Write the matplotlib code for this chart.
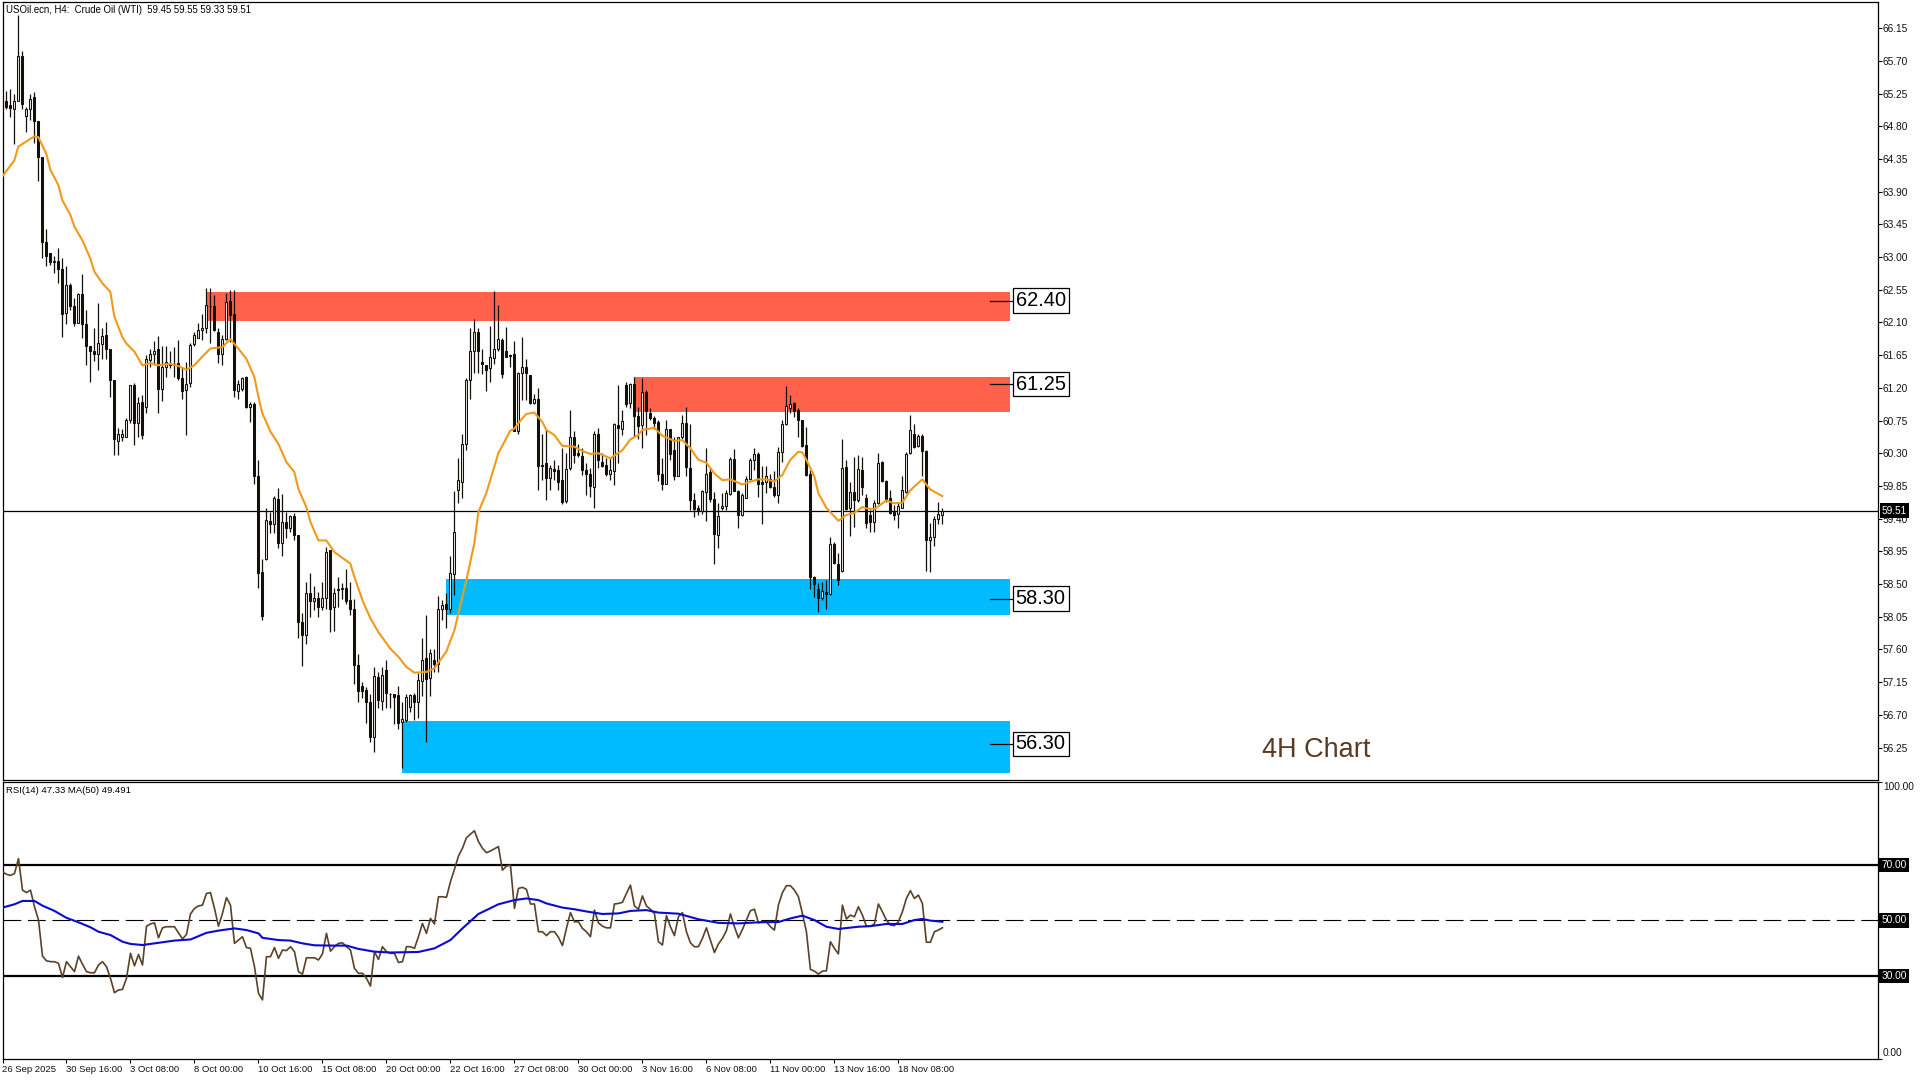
import matplotlib
matplotlib.use("Agg")
import matplotlib.pyplot as plt
from matplotlib.patches import Rectangle
from matplotlib.transforms import blended_transform_factory
import numpy as np

plt.rcParams['font.family'] = ['Liberation Sans', 'DejaVu Sans']

# ---------- price data (H4 candles) ----------
open_ = [
65.15,65.14,65.09,65.04,65.14,65.76,64.94,65.03,65.20,64.87,
64.38,63.20,63.06,62.95,62.94,62.83,62.23,62.61,62.32,62.09,
62.49,62.08,61.77,61.71,61.66,61.80,61.92,61.74,61.31,60.47,
60.52,60.53,60.76,61.24,60.71,61.01,60.93,61.58,61.67,61.73,
61.19,61.48,61.53,61.53,61.54,61.34,61.17,61.26,61.80,61.89,
61.99,62.02,62.32,62.32,61.97,61.66,61.87,62.39,62.21,61.16,
61.19,61.35,60.93,60.98,59.98,58.66,58.84,59.37,59.33,59.67,
59.07,59.35,59.27,59.43,59.18,57.98,57.80,58.38,58.27,58.31,
58.19,58.31,58.97,58.18,58.43,58.43,58.44,58.28,58.16,57.38,
57.09,57.04,56.88,56.39,57.22,56.89,57.32,56.99,56.99,56.97,
56.60,56.63,56.81,56.97,56.87,57.17,57.48,57.20,57.46,57.40,
58.16,58.22,58.16,58.64,59.80,59.91,60.42,61.31,61.71,61.97,
61.55,61.52,61.47,61.61,61.74,61.86,61.70,61.65,61.66,60.61,
61.41,61.48,61.37,60.99,61.04,60.14,60.16,59.96,60.08,60.07,
59.93,59.64,60.09,60.53,60.30,60.26,60.07,60.02,59.84,60.57,
60.18,60.14,60.02,60.06,60.69,60.64,61.24,60.99,61.25,60.81,
60.69,61.14,60.85,60.78,60.73,60.01,59.87,60.63,60.34,59.98,
60.52,60.72,60.10,59.66,59.55,59.51,59.76,60.04,59.67,59.17,
59.55,59.58,59.74,60.22,59.78,59.45,59.69,59.94,60.21,60.29,
59.90,59.90,59.95,59.84,59.73,60.31,60.70,60.92,60.99,60.89,
60.76,60.41,60.02,58.60,58.43,58.31,58.39,58.36,59.05,58.78,
58.68,60.11,59.54,59.77,59.65,60.07,59.68,59.45,59.36,59.61,
60.18,59.92,59.68,59.49,59.46,59.55,59.77,60.30,60.56,60.40,
60.54,60.33,59.11,59.15,59.39,59.45]
high = [
65.20,65.28,65.31,65.25,66.33,65.83,65.06,65.24,65.27,64.87,
64.38,63.38,63.06,63.01,63.13,62.99,62.88,62.64,62.43,62.51,
62.76,62.27,61.77,62.02,62.37,62.02,62.10,61.74,61.31,60.65,
60.64,60.78,61.24,61.26,61.08,61.10,61.65,61.73,61.85,61.91,
61.77,61.77,61.70,61.76,61.86,61.49,61.56,61.81,61.97,62.09,
62.22,62.58,62.58,62.48,62.02,61.92,62.50,62.54,62.54,61.31,
61.35,61.36,61.01,61.01,60.21,58.84,59.55,59.49,59.71,59.82,
59.74,59.49,59.45,59.48,59.18,58.10,58.53,58.65,58.47,58.39,
58.53,59.01,58.97,58.44,58.60,58.51,58.71,58.53,58.29,57.54,
57.15,57.08,56.99,57.36,57.29,57.36,57.45,57.00,56.99,57.09,
56.88,56.99,56.99,57.00,57.27,57.76,58.07,57.61,57.61,58.33,
58.28,58.37,58.88,59.78,60.23,60.57,61.33,62.02,62.15,62.02,
61.73,61.52,62.05,62.53,62.34,61.89,62.03,61.66,61.85,61.42,
61.90,61.59,61.37,61.12,61.20,60.56,60.64,60.14,60.21,60.14,
60.37,60.30,60.90,60.61,60.43,60.37,60.16,60.09,60.61,60.65,
60.30,60.23,60.23,60.71,61.24,60.90,61.28,61.26,61.35,60.94,
61.33,61.17,60.92,60.81,60.76,60.23,60.76,60.64,60.53,60.53,
60.83,60.94,60.70,59.75,59.59,59.79,60.37,60.09,59.77,59.62,
59.75,59.79,60.25,60.36,59.79,59.75,59.98,60.24,60.37,60.32,
60.12,60.12,60.01,60.06,60.39,60.76,61.22,61.10,61.01,60.92,
60.76,60.66,60.07,58.61,58.51,58.53,58.56,59.15,59.08,58.92,
60.50,60.21,59.91,60.25,60.27,60.25,59.74,59.52,59.66,60.30,
60.19,59.93,59.79,59.59,59.61,59.98,60.32,60.83,60.70,60.57,
60.56,60.34,59.34,59.43,59.63,59.55]
low = [
65.11,65.04,64.92,64.56,65.14,65.03,64.72,64.89,64.57,64.04,
62.99,62.88,62.89,62.78,62.64,61.90,62.08,62.27,62.05,62.09,
61.89,61.52,61.28,61.57,61.45,61.60,61.60,61.08,60.27,60.27,
60.47,60.53,60.72,60.41,60.53,60.49,60.85,61.49,61.51,60.86,
61.02,61.35,61.47,61.35,61.31,61.05,60.55,61.21,61.77,61.88,
61.86,61.95,61.82,61.98,61.54,61.51,61.86,61.83,61.08,61.05,
61.15,60.92,60.73,59.87,58.45,58.00,58.83,59.20,59.20,59.00,
58.89,59.14,59.22,59.10,57.76,57.37,57.68,58.05,58.14,58.05,
58.14,58.16,57.84,57.86,58.18,58.30,58.23,58.07,57.13,56.87,
56.93,56.59,56.33,56.19,56.79,56.76,56.79,56.79,56.58,56.51,
55.97,56.60,56.74,56.63,56.65,56.96,56.33,56.96,57.29,57.29,
58.00,57.89,58.10,58.35,59.61,59.69,60.34,61.05,61.40,61.41,
61.39,61.16,61.28,61.53,61.70,61.34,61.62,61.48,60.60,60.56,
61.03,61.03,60.98,60.98,59.79,59.93,59.66,59.79,59.93,59.79,
59.60,59.62,60.07,60.16,60.25,60.00,59.72,59.70,59.54,60.09,
60.11,59.98,59.93,59.86,60.16,60.55,60.93,60.92,60.53,60.50,
60.37,60.55,60.76,60.64,59.92,59.80,59.87,60.20,59.93,59.98,
60.50,59.98,59.52,59.42,59.45,59.47,59.37,59.63,58.77,59.00,
59.52,59.52,59.72,59.78,59.27,59.44,59.68,59.93,60.07,59.70,
59.33,59.75,59.82,59.70,59.62,60.18,60.69,60.85,60.80,60.53,
60.39,59.98,58.43,58.32,58.12,58.28,58.16,58.35,58.78,58.48,
58.67,59.52,59.16,59.29,59.63,59.72,59.27,59.22,59.22,59.60,
59.91,59.63,59.46,59.38,59.27,59.54,59.75,60.29,60.37,60.39,
59.98,58.68,58.67,59.03,59.32,59.33]
close = [
65.17,65.07,65.05,65.14,65.76,65.11,65.04,65.18,64.87,64.38,
63.20,63.02,62.93,62.93,62.83,62.22,62.61,62.32,62.09,62.49,
62.08,61.78,61.70,61.67,61.82,61.91,61.74,61.31,60.49,60.56,
60.57,60.76,61.24,60.72,60.99,60.55,61.59,61.67,61.71,61.19,
61.49,61.56,61.52,61.52,61.33,61.16,61.25,61.79,61.92,61.99,
62.02,62.34,62.32,61.99,61.66,61.87,62.38,62.20,61.17,61.25,
61.34,60.94,60.98,59.98,58.65,58.06,59.38,59.33,59.68,59.07,
59.36,59.27,59.43,59.18,57.98,57.80,58.37,58.27,58.31,58.19,
58.31,58.94,58.16,58.38,58.42,58.44,58.27,58.15,57.38,57.03,
57.03,56.87,56.40,57.23,56.90,57.25,57.00,56.99,56.95,56.59,
56.64,56.94,56.97,56.88,57.18,57.46,57.19,57.55,57.40,58.16,
58.21,58.16,58.65,59.21,59.93,60.43,61.31,61.70,61.97,61.71,
61.53,61.44,61.63,61.74,61.87,61.39,61.63,61.64,60.61,61.41,
61.48,61.41,60.99,61.05,60.13,60.13,59.96,60.10,60.06,59.91,
59.63,60.08,60.53,60.27,60.27,60.07,60.01,59.85,60.57,60.20,
60.13,60.02,60.07,60.70,60.65,60.74,60.98,61.25,60.81,60.67,
61.14,60.88,60.79,60.72,60.01,59.87,60.64,60.29,59.98,60.52,
60.72,60.11,59.66,59.53,59.51,59.78,60.02,59.67,59.19,59.44,
59.58,59.75,60.22,59.78,59.45,59.72,59.95,60.21,60.29,59.87,
59.88,59.98,59.84,59.72,60.31,60.70,60.95,60.98,60.88,60.76,
60.40,60.00,58.59,58.50,58.31,58.41,58.36,59.05,58.79,58.56,
60.10,59.53,59.77,59.65,60.08,59.83,59.34,59.36,59.61,60.17,
59.92,59.65,59.48,59.45,59.57,59.79,60.29,60.62,60.39,60.54,
60.33,59.11,59.15,59.40,59.47,59.51]

# moving average on the price panel
ma_bar = [0,3,4,6,8,9,11,12,14,15,17,18,20,22,23,25,27,28,30,31,33,35,37,39,42,44,46,48,50,52,55,57,59,61,63,64,65,67,69,71,73,74,76,77,79,81,83,87,88,90,92,94,97,99,101,103,106,108,111,113,114,116,118,119,
121,124,127,128,130,131,133,135,136,138,140,143,145,147,149,152,155,157,159,160,163,165,168,170,172,174,176,178,180,182,185,187,189,191,193,195,197,199,200,201,203,204,206,209,211,213,215,216,218,221,223,225,227,230,232,235]
ma_val = [64.11,64.33,64.52,64.59,64.66,64.65,64.42,64.20,63.99,63.78,63.58,63.42,63.23,62.98,62.80,62.64,62.52,62.18,61.90,61.81,61.70,61.51,61.54,61.51,61.53,61.50,61.45,61.51,61.63,61.74,61.76,61.87,61.74,61.60,61.35,61.08,60.85,60.60,60.43,60.18,60.04,59.81,59.56,59.36,59.10,59.10,58.94,58.78,58.60,58.28,58.03,57.84,57.61,57.50,57.36,57.28,57.29,57.34,57.57,57.86,58.09,58.55,59.06,59.49,
59.75,60.30,60.61,60.64,60.78,60.84,60.86,60.73,60.62,60.55,60.40,60.39,60.33,60.29,60.30,60.23,60.34,60.49,60.55,60.62,60.65,60.54,60.47,60.48,60.37,60.21,60.17,60.02,59.93,59.94,59.87,59.91,59.94,59.94,59.91,60.00,60.21,60.32,60.31,60.21,59.98,59.75,59.55,59.37,59.45,59.48,59.56,59.54,59.53,59.65,59.61,59.62,59.79,59.94,59.80,59.71]

# RSI(14) and its MA(50)
rsi = [
67.5,66.6,66.2,66.9,72.3,60.9,60.0,60.9,54.9,50.1,
37.1,35.4,35.1,35.1,34.5,29.4,35.1,33.3,31.5,37.1,
34.2,31.5,31.1,31.1,33.9,35.1,33.3,29.1,23.9,24.9,
25.1,29.1,38.1,33.6,37.7,33.9,47.9,48.7,49.1,43.7,
47.3,47.7,47.7,47.7,45.5,43.3,44.9,52.3,54.3,55.2,
55.5,59.7,60.0,54.3,47.9,52.5,58.2,55.5,41.7,42.9,
44.1,40.2,39.9,33.3,23.7,21.3,36.9,36.9,40.2,36.3,
39.3,39.1,40.5,38.7,31.5,30.6,36.5,36.5,36.5,35.7,
37.9,45.3,38.9,40.5,41.7,41.9,40.5,39.3,32.7,30.9,
30.9,29.1,26.3,38.7,35.9,40.5,38.7,38.1,38.1,34.8,
35.1,40.5,40.5,39.9,44.1,48.9,45.3,50.7,48.7,58.5,
58.5,58.3,63.9,68.4,73.2,76.0,79.8,81.1,82.3,78.4,
76.0,74.4,75.0,75.8,76.6,68.1,69.6,69.9,54.3,61.5,
61.9,61.2,55.9,55.9,45.9,45.9,44.5,45.9,45.9,43.9,
40.9,47.1,52.8,49.5,49.5,47.1,45.9,44.1,53.7,49.1,
47.9,47.3,47.3,55.9,56.1,56.5,59.7,62.7,55.2,54.0,
58.8,55.2,54.0,52.5,42.3,41.1,51.7,47.7,44.5,51.3,
52.8,45.9,41.9,40.5,40.5,43.5,47.3,42.9,38.4,41.5,
43.5,46.3,52.3,47.7,43.7,46.7,50.1,53.5,54.0,49.1,
49.5,49.5,47.7,46.5,55.5,60.0,62.5,62.5,60.9,58.5,
52.5,45.9,32.3,31.7,30.6,31.7,31.8,42.3,39.9,37.9,
55.5,50.5,51.9,51.3,54.9,51.9,47.9,47.9,48.7,55.9,
53.1,50.1,48.3,48.1,49.5,53.1,57.9,60.7,57.9,59.1,
56.1,42.1,42.1,45.9,46.5,47.33]
rsi_ma_bar = [0,3,5,8,10,13,16,19,22,24,27,30,32,35,39,43,47,51,54,58,61,64,65,69,72,75,78,82,86,89,93,97,104,108,112,115,119,
121,124,128,131,134,136,140,143,146,150,154,157,161,164,169,174,179,184,189,194,197,200,203,206,209,214,217,221,225,228,230,232,235]
rsi_ma_val = [54.6,55.8,57.0,57.0,55.3,53.4,50.9,49.3,47.5,45.9,44.7,42.3,41.5,41.1,41.9,42.7,43.1,45.5,46.3,47.1,46.5,45.3,43.7,42.9,42.7,41.7,41.0,40.9,40.9,39.7,38.7,38.4,38.6,39.9,42.9,47.1,52.3,
53.7,55.8,57.3,57.9,57.3,56.1,54.6,54.0,53.2,52.3,52.5,53.4,53.7,52.8,52.4,50.4,49.1,48.9,49.3,49.4,50.7,51.7,50.1,47.7,46.9,47.7,47.9,48.7,48.7,50.1,50.5,49.9,49.49]

# zones: first bar, top price, bottom price
zone_start = [50.9, 157.9, 110.9, 99.9]
zone_top = [62.52, 61.35, 58.57, 56.61]
zone_bottom = [62.12, 60.87, 58.07, 55.90]
zone_colors = ['#ff614a', '#ff614a', '#00bbff', '#00bbff']
zone_end = 251.9
levels = [62.40, 61.25, 58.30, 56.30]
level_labels = ['62.40', '61.25', '58.30', '56.30']

price_ticks = [66.15,65.70,65.25,64.80,64.35,63.90,63.45,63.00,62.55,62.10,61.65,61.20,60.75,60.30,59.85,59.40,58.95,58.50,58.05,57.60,57.15,56.70,56.25]
last_price = 59.51
date_labels = ['26 Sep 2025','30 Sep 16:00','3 Oct 08:00','8 Oct 00:00','10 Oct 16:00','15 Oct 08:00','20 Oct 00:00','22 Oct 16:00','27 Oct 08:00','30 Oct 00:00','3 Nov 16:00','6 Nov 08:00','11 Nov 00:00','13 Nov 16:00','18 Nov 08:00']
date_bars = [0,16,32,48,64,80,96,112,128,144,160,176,192,208,224]

W, H = 1920, 1080
fig = plt.figure(figsize=(19.2, 10.8), dpi=100, facecolor='white')
def axes_px(x0, y0, x1, y1):
    return fig.add_axes([x0/W, 1-y1/H, (x1-x0)/W, (y1-y0)/H])

ax = axes_px(2.5, 2.3, 1877.5, 779.5)
ax2 = axes_px(2.5, 781.7, 1877.5, 1059.0)
XLIM = (0.04, 468.8)
x = np.arange(len(close))
o, h, l, c = map(np.array, (open_, high, low, close))

for a in (ax, ax2):
    a.set_xlim(*XLIM)
    for s in a.spines.values():
        s.set_linewidth(0.9)
        s.set_color('black')

ax.set_ylim(55.81, 66.505)
ax2.set_ylim(0, 100)

# zones
for s, t, b, col in zip(zone_start, zone_top, zone_bottom, zone_colors):
    ax.add_patch(Rectangle((s, b), zone_end - s, t - b, fc=col, ec='none', zorder=1))

# current price line
ax.axhline(last_price, color='black', lw=0.9, zorder=2)

# candles
ax.vlines(x, l, h, color='#14100a', lw=0.9, zorder=3)
up = c >= o
ax.bar(x[up], (c - o)[up], bottom=o[up], width=0.5, fc='#e2e2e2', ec='#14100a', lw=0.75, zorder=4)
ax.bar(x[~up], (o - c)[~up], bottom=c[~up], width=0.5, fc='#14100a', ec='#14100a', lw=0.75, zorder=4)

ax.plot(ma_bar, ma_val, color='#f09a1c', lw=1.5, zorder=5, solid_joinstyle='round')

# level markers
for lv, lb in zip(levels, level_labels):
    ax.plot([246.9, 252.8], [lv, lv], color='black', lw=0.9, zorder=6)
    ax.text(259.6, lv, lb, ha='center', va='center', fontsize=14.4, color='black', zorder=7,
            bbox=dict(boxstyle='square,pad=0.14', fc='white', ec='black', lw=0.9))

ax.text((1262-2.33)/4, 59.51 - (757-510.5)/72.67, '4H Chart', fontsize=19.5, color='#5a3a20',
        ha='left', va='baseline', zorder=7)

ax.set_xticks([])
ax.yaxis.tick_right()
ax.set_yticks(price_ticks)
ax.set_yticklabels([f'{v:.2f}' for v in price_ticks], fontsize=7.3, color='#111111')
ax.tick_params(axis='y', length=2.6, width=0.8, pad=1.0)

ax.text(4/1875, 0.9905, 'USOil.ecn, H4:  Crude Oil (WTI)  59.45 59.55 59.33 59.51',
        transform=ax.transAxes, fontsize=6.9, va='center', ha='left', color='black')

# last price tag
trans = blended_transform_factory(ax.transAxes, ax.transData)
ax.text(1+(1894.5-1877.5)/1875, last_price, f'{last_price:.2f}', transform=trans, ha='center', va='center',
        fontsize=7.3, color='white', clip_on=False, zorder=10,
        bbox=dict(boxstyle='square,pad=0.22', fc='black', ec='black', lw=0))

# RSI panel
ax2.axhline(70, color='black', lw=1.6, zorder=2)
ax2.axhline(30, color='black', lw=1.6, zorder=2)
ax2.axhline(50, color='black', lw=0.8, dashes=(16, 6), zorder=2)
ax2.plot(x, rsi, color='#5b4128', lw=1.2, zorder=3)
ax2.plot(rsi_ma_bar, rsi_ma_val, color='#0a0ad2', lw=1.5, zorder=4)

ax2.yaxis.tick_right()
ax2.set_yticks([100, 70, 50, 30, 0])
ax2.set_yticklabels([])
ax2.tick_params(axis='y', length=2.6, width=0.8)
trans2 = blended_transform_factory(ax2.transAxes, ax2.transData)
ax2.text(1+(1883.5-1877.5)/1875, 98.2, '100.00', transform=trans2, ha='left', va='center',
         fontsize=7.3, color='#111111', clip_on=False)
ax2.text(1+(1883-1877.5)/1875, 2.2, '0.00', transform=trans2, ha='left', va='center',
         fontsize=7.3, color='#111111', clip_on=False)
for lv in (70, 50, 30):
    ax2.text(1+(1894-1877.5)/1875, lv, f'{lv:.2f}', transform=trans2, ha='center', va='center',
             fontsize=7.3, color='white', clip_on=False, zorder=10,
             bbox=dict(boxstyle='square,pad=0.22', fc='black', ec='black', lw=0))

ax2.text(3/1875, 0.968, 'RSI(14) 47.33 MA(50) 49.491', transform=ax2.transAxes, fontsize=6.8,
         va='center', ha='left', color='black')

ax2.set_xticks(date_bars)
ax2.set_xticklabels(date_labels, fontsize=6.8, ha='left', color='#111111')
ax2.tick_params(axis='x', length=2.6, width=0.8, pad=1.8)

fig.savefig('out.png', dpi=100, facecolor='white')
